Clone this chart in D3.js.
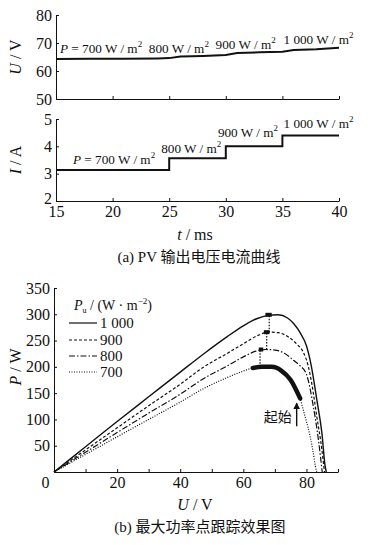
<!DOCTYPE html>
<html><head><meta charset="utf-8">
<script src="https://cdn.jsdelivr.net/npm/d3@7"></script>
<style>
body{margin:0;background:#fff;}
text{font-family:"Liberation Serif","Times New Roman",serif;fill:#111;}
.cjk{font-family:"Noto Sans CJK SC",sans-serif;}
</style></head>
<body><svg id="c" width="369" height="545"></svg>
<script>
// ---------- Panel (a) data ----------
const timeTicks = [15, 20, 25, 30, 35, 40];
const uTicks = [50, 60, 70, 80];
const iTicks = [2, 3, 4, 5];
const irrLabels = ["700", "800", "900", "1 000"];
// voltage trace (t ms, U V)
const uTrace = [[15,64.3],[18,64.4],[21,64.4],[24,64.5],[25,64.6],[26,65.2],[28,65.4],[30,65.7],[31,66.4],[33,66.7],[35,66.9],[36,67.5],[38,67.8],[40,68.3]];
// current trace (step changes)
const iTrace = [[15,3.13],[25,3.13],[25,3.56],[30,3.56],[30,4.0],[35,4.0],[35,4.40],[40,4.40]];
// label anchor positions (t, value)
const uLabelPos = [[15.35,66.4],[23.2,66.4],[29.1,67.75],[35.1,69.5]];
const iLabelPos = [[16.5,3.35],[24.3,3.76],[29.3,4.34],[35.1,4.67]];

// ---------- Panel (b) data ----------
const vTicks = [0,10,20,30,40,50,60,70,80,90];
const pTicks = [50,100,150,200,250,300,350];
const series = ["1 000","900","800","700"];
const pv1000 = [[0,0],[10,48],[20,96],[30,143],[40,190],[47.5,225],[55,258],[60,278],[64,291],[68,298],[71,299],[74,293],[76,282],[78,265],[80,240],[81.5,203],[83.3,137],[84.9,74],[85.9,12],[86.3,0]];
const pv900 = [[0,0],[10,42],[20,84],[30,126],[40,167],[47.5,200],[55,226],[60,244],[64,258],[68,266],[71,265],[74,258],[77,243],[79,228],[80.5,203],[81.7,168],[83.3,105],[84.9,42],[85.7,0]];
const pv800 = [[0,0],[10,37.5],[20,75],[30,112],[40,148],[47.5,178],[55,202],[60,219],[64,230],[67,233],[70,232],[73,226],[76,212],[78,202],[80,186],[82.2,124],[83.8,61],[85,0]];
const pv700 = [[0,0],[10,33.5],[20,67],[30,100],[40,133],[47.5,159],[55,180],[60,192],[63,198],[66,200],[69,200],[72,193],[75,175],[78,140],[79,118],[80,96],[81,72],[82,42],[82.8,12],[83.3,0]];
const dashes = [null, "3,2", "6,2,1.5,2", "1,1.5"];
// MPPT trajectory: thick parts and vertical jumps
const trackRange700 = [62.5, 78];
const blobs = [[64.9,66.3,233],[66.5,68.3,266],[67,69,299]];
const jumps = [[65.3,200,233],[67.4,233,266],[68.2,266,299]];
const arrowPts = [[76.9,87],[76.9,131]];

const svg = d3.select("#c");
const col = "#111";

// ---------- Panel (a) ----------
const xA = d3.scaleLinear().domain([15,40]).range([56,339]);
const yU = d3.scaleLinear().domain([50,80]).range([99,15]);
const yI = d3.scaleLinear().domain([2,5]).range([201,119]);

function styleAxis(g){
  g.selectAll("path,line").attr("stroke",col).attr("stroke-width",1);
  g.selectAll("text").attr("font-size","16px").attr("font-family",'"Liberation Serif",serif').attr("fill",col);
}
const fmt = d3.format("d");
// top axes
svg.append("g").attr("transform",`translate(0,${yU(50)})`)
  .call(d3.axisBottom(xA).tickValues(timeTicks).tickSize(-3).tickSizeOuter(0).tickFormat(""))
  .call(styleAxis);
svg.append("g").attr("transform",`translate(${xA(15)},0)`)
  .call(d3.axisLeft(yU).tickValues(uTicks).tickSize(-3).tickSizeOuter(0).tickPadding(4).tickFormat(fmt))
  .call(styleAxis);
// bottom axes
svg.append("g").attr("transform",`translate(0,${yI(2)})`)
  .call(d3.axisBottom(xA).tickValues(timeTicks).tickSize(-3).tickSizeOuter(0).tickPadding(5).tickFormat(fmt))
  .call(styleAxis);
const gyI = svg.append("g").attr("transform",`translate(${xA(15)},0)`)
  .call(d3.axisLeft(yI).tickValues(iTicks).tickSize(-3).tickSizeOuter(0).tickPadding(4).tickFormat(fmt))
  .call(styleAxis);
gyI.selectAll(".tick").filter(d=>d===2).select("text").attr("y",-3);

svg.append("path").datum(uTrace)
  .attr("d", d3.line().x(d=>xA(d[0])).y(d=>yU(d[1])))
  .attr("fill","none").attr("stroke",col).attr("stroke-width",2);
svg.append("path").datum(iTrace)
  .attr("d", d3.line().x(d=>xA(d[0])).y(d=>yI(d[1])))
  .attr("fill","none").attr("stroke",col).attr("stroke-width",2);

function irrText(x,y,lab,first){
  const t = svg.append("text").attr("x",x).attr("y",y).attr("font-size","13.2px");
  if(first){
    t.append("tspan").attr("font-style","italic").text("P");
    t.append("tspan").text(" = ");
  }
  t.append("tspan").text(lab+" W / m");
  t.append("tspan").attr("dy",-6).attr("font-size","9px").text("2");
}
irrLabels.forEach((l,i)=>{
  irrText(xA(uLabelPos[i][0]), yU(uLabelPos[i][1]), l, i===0);
  irrText(xA(iLabelPos[i][0]), yI(iLabelPos[i][1]), l, i===0);
});

function yLabel(cx,cy,v,u){
  const t = svg.append("text").attr("transform",`translate(${cx},${cy}) rotate(-90)`)
    .attr("text-anchor","middle").attr("font-size","16px");
  t.append("tspan").attr("font-style","italic").text(v);
  t.append("tspan").text(" / "+u);
}
yLabel(21,57,"U","V");
yLabel(21,160,"I","A");
{
  const t = svg.append("text").attr("x",195).attr("y",240).attr("text-anchor","middle").attr("font-size","16px");
  t.append("tspan").attr("font-style","italic").text("t");
  t.append("tspan").text(" / ms");
}
{
  const t = svg.append("text").attr("x",199).attr("y",262).attr("text-anchor","middle").attr("font-size","15px");
  t.append("tspan").text("(a)  PV ");
  t.append("tspan").attr("class","cjk").attr("font-size","15px").text("输出电压电流曲线");
}

// ---------- Panel (b) ----------
const xB = d3.scaleLinear().domain([0,90]).range([54,338]);
const yP = d3.scaleLinear().domain([0,350]).range([472,288]);

const gx = svg.append("g").attr("transform",`translate(0,${yP(0)})`)
  .call(d3.axisBottom(xB).tickValues(vTicks).tickSize(-3).tickSizeOuter(0).tickPadding(5)
    .tickFormat(d=> d%20===0 ? d : ""))
  .call(styleAxis);
gx.selectAll(".tick").filter(d=>d===0).select("text").attr("x",-9);
svg.append("g").attr("transform",`translate(${xB(0)},0)`)
  .call(d3.axisLeft(yP).tickValues(pTicks).tickSize(-3).tickSizeOuter(0).tickPadding(4))
  .call(styleAxis);

const pvLine = d3.line().x(d=>xB(d[0])).y(d=>yP(d[1])).curve(d3.curveMonotoneX);
const pvAll = [pv1000, pv900, pv800, pv700];
pvAll.forEach((s,i)=>{
  svg.append("path").datum(s).attr("d",pvLine)
    .attr("fill","none").attr("stroke",col)
    .attr("stroke-width", i===0?1.4:1.2)
    .attr("stroke-dasharray", dashes[i]);
});
// MPPT tracking thick segment on 700 curve
svg.append("path").datum(pv700.filter(d=>d[0]>=trackRange700[0]-0.5 && d[0]<=trackRange700[1]))
  .attr("d",pvLine).attr("fill","none").attr("stroke",col).attr("stroke-width",4.5).attr("stroke-linecap","round");
blobs.forEach(b=>{
  svg.append("line").attr("x1",xB(b[0])).attr("x2",xB(b[1])).attr("y1",yP(b[2])).attr("y2",yP(b[2]))
    .attr("stroke",col).attr("stroke-width",4);
});
jumps.forEach(j=>{
  svg.append("line").attr("x1",xB(j[0])).attr("x2",xB(j[0])).attr("y1",yP(j[1])).attr("y2",yP(j[2]))
    .attr("stroke",col).attr("stroke-width",1.2).attr("stroke-dasharray","1.5,1.5");
});
// arrow
svg.append("defs").append("marker").attr("id","ah").attr("viewBox","0 0 10 10")
  .attr("refX",9).attr("refY",5).attr("markerWidth",5).attr("markerHeight",7).attr("orient","auto")
  .append("path").attr("d","M0,0L10,5L0,10z").attr("fill",col);
svg.append("line").attr("x1",xB(arrowPts[0][0])).attr("y1",yP(arrowPts[0][1]))
  .attr("x2",xB(arrowPts[1][0])).attr("y2",yP(arrowPts[1][1]))
  .attr("stroke",col).attr("stroke-width",1.4).attr("marker-end","url(#ah)");
svg.append("text").attr("class","cjk").attr("x",xB(arrowPts[0][0])-5).attr("y",yP(105)+5)
  .attr("text-anchor","end").attr("font-size","14px").text("起始");

// legend
{
  const t = svg.append("text").attr("x",74).attr("y",310).attr("font-size","14px");
  t.append("tspan").attr("font-style","italic").text("P");
  t.append("tspan").attr("dy",3).attr("font-size","8px").text("u");
  t.append("tspan").attr("dy",-3).text(" / (W · m");
  t.append("tspan").attr("dy",-6).attr("font-size","9px").text("−2");
  t.append("tspan").attr("dy",6).text(")");
}
const legY = [323,340,356,372];
series.forEach((s,i)=>{
  svg.append("line").attr("x1",69).attr("x2",97).attr("y1",legY[i]).attr("y2",legY[i])
    .attr("stroke",col).attr("stroke-width",1.2).attr("stroke-dasharray",dashes[i]);
  svg.append("text").attr("x",100).attr("y",legY[i]+5).attr("font-size","15px").text(s);
});

yLabel(21,367,"P","W");
{
  const t = svg.append("text").attr("x",195).attr("y",510).attr("text-anchor","middle").attr("font-size","16px");
  t.append("tspan").attr("font-style","italic").text("U");
  t.append("tspan").text(" / V");
}
{
  const t = svg.append("text").attr("x",200).attr("y",532).attr("text-anchor","middle").attr("font-size","15px");
  t.append("tspan").text("(b)  ");
  t.append("tspan").attr("class","cjk").attr("font-size","15px").text("最大功率点跟踪效果图");
}
</script></body></html>
